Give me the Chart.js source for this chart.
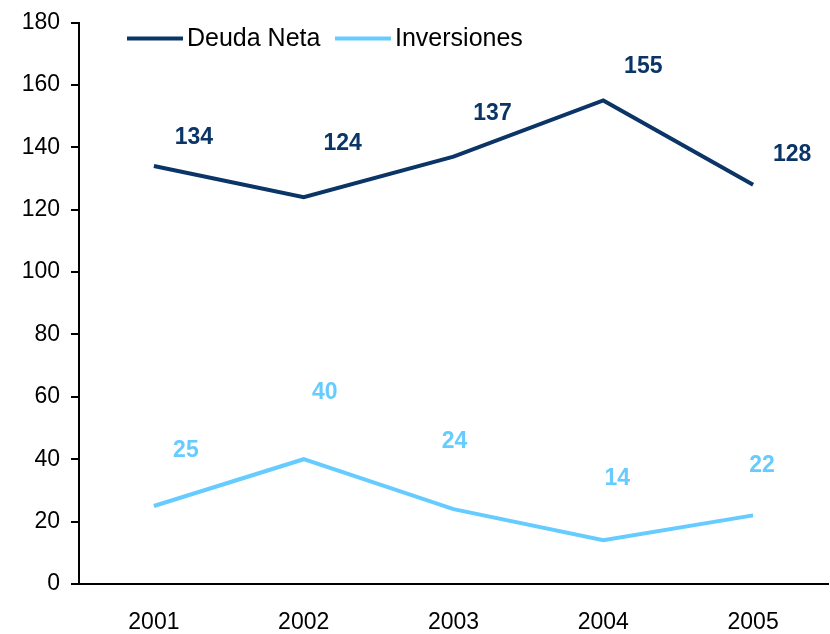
<!DOCTYPE html>
<html>
<head>
<meta charset="utf-8">
<script src="https://cdn.jsdelivr.net/npm/chart.js@4"></script>
<style>
  html, body { margin: 0; padding: 0; background: #fff; }
  #wrap { width: 830px; height: 634px; }
</style>
</head>
<body>
<div id="wrap"><canvas id="grafico" width="830" height="634"></canvas></div>
<script>
// Datos del gráfico
const years = ['2001', '2002', '2003', '2004', '2005'];
const deudaNeta = [134, 124, 137, 155, 128];
const inversiones = [25, 40, 24, 14, 22];
const yTicks = [0, 20, 40, 60, 80, 100, 120, 140, 160, 180];

const navy = '#0B3566';
const sky = '#66CCFF';
const fontFamily = 'Arial, "Liberation Sans", sans-serif';

// Etiquetas de valor, desplazadas respecto a cada punto
const labelShift = [
    [[40, -28], [39, -54], [39, -43], [40, -34], [39, -30]],
    [[32, -55], [21, -67], [1, -67], [14, -62], [9, -50]]
];

const valueLabels = {
    id: 'valueLabels',
    afterDatasetsDraw(chart) {
        const ctx = chart.ctx;
        ctx.save();
        ctx.font = 'bold 23px ' + fontFamily;
        ctx.textAlign = 'center';
        ctx.textBaseline = 'middle';
        chart.data.datasets.forEach((ds, i) => {
            chart.getDatasetMeta(i).data.forEach((pt, j) => {
                const s = labelShift[i][j];
                ctx.fillStyle = ds.borderColor;
                ctx.fillText(ds.data[j], pt.x + s[0], pt.y + s[1]);
            });
        });
        ctx.restore();
    }
};

// Leyenda dentro del área del gráfico
const insideLegend = {
    id: 'insideLegend',
    afterDraw(chart) {
        const ctx = chart.ctx;
        const area = chart.chartArea;
        const starts = [area.left + 48, area.left + 256];
        ctx.save();
        ctx.font = '25px ' + fontFamily;
        ctx.textBaseline = 'middle';
        chart.data.datasets.forEach((ds, i) => {
            const x = starts[i];
            const y = area.top + 16;
            ctx.strokeStyle = ds.borderColor;
            ctx.lineWidth = 4;
            ctx.beginPath();
            ctx.moveTo(x, y);
            ctx.lineTo(x + 56, y);
            ctx.stroke();
            ctx.fillStyle = '#000';
            ctx.fillText(ds.label, x + 60, y + 1);
        });
        ctx.restore();
    }
};

new Chart(document.getElementById('grafico').getContext('2d'), {
    type: 'line',
    data: {
        labels: years,
        datasets: [
            { label: 'Deuda Neta', data: deudaNeta, borderColor: navy, backgroundColor: navy, borderWidth: 4, pointRadius: 0, tension: 0 },
            { label: 'Inversiones', data: inversiones, borderColor: sky, backgroundColor: sky, borderWidth: 4, pointRadius: 0, tension: 0 }
        ]
    },
    options: {
        responsive: false,
        animation: false,
        layout: { padding: { top: 21, right: 2, bottom: 0, left: 0 } },
        plugins: {
            legend: { display: false },
            tooltip: { enabled: false }
        },
        scales: {
            x: {
                offset: true,
                grid: { display: false, drawTicks: false },
                border: { color: '#000', width: 2 },
                ticks: { color: '#000', padding: 27, maxRotation: 0, font: { family: fontFamily, size: 23, lineHeight: 1 } },
                afterFit(axis) { axis.height = 50; }
            },
            y: {
                min: 0,
                max: 180,
                afterBuildTicks(axis) { axis.ticks = yTicks.map(v => ({ value: v })); },
                grid: { drawOnChartArea: false, tickLength: 8, color: '#000', lineWidth: 2 },
                border: { color: '#000', width: 2 },
                ticks: { color: '#000', padding: 11, font: { family: fontFamily, size: 23, lineHeight: 1 } },
                afterFit(axis) { axis.width = 79; }
            }
        }
    },
    plugins: [valueLabels, insideLegend]
});
</script>
</body>
</html>
